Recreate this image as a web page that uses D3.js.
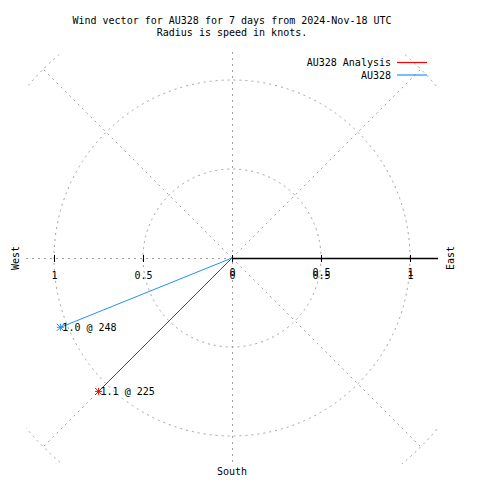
<!DOCTYPE html>
<html>
<head>
<meta charset="utf-8">
<script src="https://cdn.jsdelivr.net/npm/d3@7"></script>
<style>
  html, body { margin: 0; padding: 0; background: #fff; }
  svg { display: block; }
  text { font-family: "DejaVu Sans Mono", "Liberation Mono", monospace; font-size: 10px; fill: #000; }
</style>
</head>
<body>
<script>
// ---- data ----
const titleLines = ["Wind vector for AU328 for 7 days from 2024-Nov-18 UTC", "Radius is speed in knots."];
const seriesNames = ["AU328 Analysis", "AU328"];
const speeds = [1.06, 1.04];          // knots
const directions = [225, 248];        // degrees
const ringValues = [0.5, 1, 1.5];     // knots
const diagonalAngles = [45, 135, 225, 315];
const tickValues = [-1, -0.5, 0, 0.5, 1];
const compassLabels = ["West", "East", "South"];

// ---- styles ----
const seriesColors = ["#ff0000", "#1e90ff"];
const gridColor = "#a0a0a0";

const W = 480, H = 480;
const cx = 232, cy = 258;
const half = 206;

const svg = d3.select("body").append("svg").attr("width", W).attr("height", H);

const r = d3.scaleLinear().domain([0, 1]).range([0, 178]);
const x = d3.scaleLinear().domain([-half / 178, half / 178]).range([cx - half, cx + half]);

// clip for plot area
svg.append("defs").append("clipPath").attr("id", "plotClip")
  .append("rect").attr("x", cx - half).attr("y", cy - half).attr("width", 2 * half).attr("height", 2 * half);

const grid = svg.append("g").attr("clip-path", "url(#plotClip)")
  .attr("fill", "none").attr("stroke", gridColor).attr("stroke-dasharray", "2,4");

// rings
grid.selectAll("circle").data(ringValues).join("circle")
  .attr("cx", cx).attr("cy", cy).attr("r", d => r(d));

// diagonals to outer ring
const rMax = d3.max(ringValues);
grid.selectAll("line.diag").data(diagonalAngles).join("line").attr("class", "diag")
  .attr("x1", cx).attr("y1", cy)
  .attr("x2", d => cx + r(rMax) * Math.sin(d * Math.PI / 180))
  .attr("y2", d => cy - r(rMax) * Math.cos(d * Math.PI / 180));

// axis lines (dashed): left half horizontal, vertical full
grid.append("line").attr("x1", cx - half).attr("y1", cy + 0.5).attr("x2", cx).attr("y2", cy + 0.5);
grid.append("line").attr("x1", cx + 0.5).attr("y1", cy - half).attr("x2", cx + 0.5).attr("y2", cy + half);

// solid black east axis
svg.append("line").attr("x1", cx).attr("y1", cy + 0.5).attr("x2", cx + half).attr("y2", cy + 0.5)
  .attr("stroke", "#000").attr("stroke-width", 1.4);

// ticks
svg.append("g").selectAll("line").data(tickValues).join("line")
  .attr("x1", d => Math.round(x(d)) + 0.5).attr("x2", d => Math.round(x(d)) + 0.5)
  .attr("y1", cy - 3).attr("y2", cy + 4)
  .attr("stroke", "#000").attr("stroke-width", 1);

// tick labels (absolute values), second set overlapping on the east side
const fmt = d => String(Math.abs(d));
svg.append("g").selectAll("text").data(tickValues).join("text")
  .attr("x", d => x(d) + 0.5).attr("y", 279).attr("text-anchor", "middle").text(fmt);
svg.append("g").selectAll("text").data(tickValues.filter(d => d >= 0)).join("text")
  .attr("x", d => x(d) + 0.5).attr("y", 276).attr("text-anchor", "middle").text(fmt);

// compass labels
svg.append("text").attr("transform", `translate(19,${cy}) rotate(-90)`).attr("text-anchor", "middle").text(compassLabels[0]);
svg.append("text").attr("transform", `translate(454,${cy}) rotate(-90)`).attr("text-anchor", "middle").text(compassLabels[1]);
svg.append("text").attr("x", cx).attr("y", 475).attr("text-anchor", "middle").text(compassLabels[2]);

// title
svg.append("g").selectAll("text").data(titleLines).join("text")
  .attr("x", 232).attr("y", (d, i) => 24 + i * 12).attr("text-anchor", "middle").text(d => d);

// vectors
const pts = speeds.map((s, i) => ({
  name: seriesNames[i], s, dir: directions[i], color: seriesColors[i],
  x: cx + r(s) * Math.sin(directions[i] * Math.PI / 180),
  y: cy - r(s) * Math.cos(directions[i] * Math.PI / 180)
}));

const vec = svg.append("g");
vec.selectAll("line").data(pts).join("line")
  .attr("x1", cx).attr("y1", cy).attr("x2", d => d.x).attr("y2", d => d.y)
  .attr("stroke", d => d.color).attr("stroke-width", 1);

const starPath = (px, py, s) =>
  `M${px - s},${py}L${px + s},${py}M${px},${py - s}L${px},${py + s}` +
  `M${px - s},${py - s}L${px + s},${py + s}M${px - s},${py + s}L${px + s},${py - s}`;
vec.selectAll("path").data(pts).join("path")
  .attr("d", d => starPath(d.x, d.y, 3.5)).attr("stroke", d => d.color).attr("stroke-width", 1).attr("fill", "none");

vec.selectAll("text").data(pts).join("text")
  .attr("x", d => d.x + 2).attr("y", d => d.y + 3.5)
  .text(d => `${d3.format(".1f")(d.s)} @ ${d.dir}`);

// legend
const leg = svg.append("g");
seriesNames.forEach((n, i) => {
  const y = 62 + i * 12.5;
  leg.append("text").attr("x", 391).attr("y", y + 4).attr("text-anchor", "end").text(n);
  leg.append("line").attr("x1", 397).attr("x2", 427).attr("y1", y + 0.5).attr("y2", y + 0.5)
    .attr("stroke", seriesColors[i]).attr("stroke-width", 1.2);
});
</script>
</body>
</html>
